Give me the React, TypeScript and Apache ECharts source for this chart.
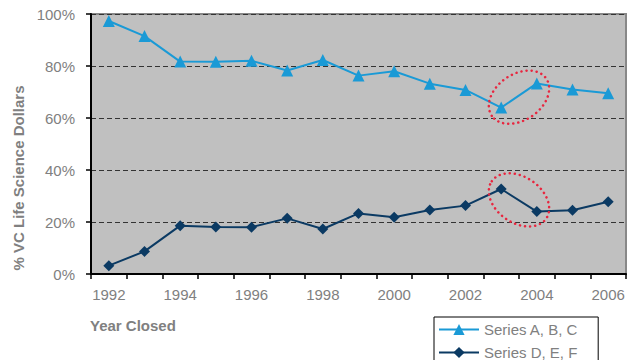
import React, { useEffect, useRef } from "react";
import * as echarts from "echarts";

const years = ["1992","1993","1994","1995","1996","1997","1998","1999","2000","2001","2002","2003","2004","2005","2006"];
const seriesABC = [97.3, 91.5, 81.7, 81.6, 82.0, 78.3, 82.3, 76.3, 78.0, 73.2, 70.8, 64.0, 73.3, 71.0, 69.5];
const seriesDEF = [3.2, 8.7, 18.6, 18.1, 18.0, 21.4, 17.3, 23.3, 21.8, 24.6, 26.3, 32.7, 24.0, 24.5, 27.8];
const seriesNames = ["Series A, B, C", "Series D, E, F"];
const yTitle = "% VC Life Science Dollars";
const xTitle = "Year Closed";

const FONT = "'Liberation Sans', Arial, sans-serif";
const GRAY = "#808080";

export default function App() {
  const ref = useRef<HTMLDivElement>(null);
  useEffect(() => {
    if (!ref.current) return;
    const chart = echarts.init(ref.current, undefined, { renderer: "svg" });
    chart.setOption({
      animation: false,
      textStyle: { fontFamily: FONT },
      grid: {
        left: 91, right: 7, top: 14, bottom: 86,
        show: true, backgroundColor: "#c0c0c0", borderColor: "#888888", borderWidth: 2,
      },
      xAxis: {
        type: "category",
        data: years,
        boundaryGap: true,
        axisLine: { lineStyle: { color: "#000", width: 2 } },
        axisTick: { show: true, interval: 0, length: 5, lineStyle: { color: "#000", width: 1.5 } },
        axisLabel: { interval: 1, color: GRAY, fontSize: 15, margin: 13, fontFamily: FONT },
        splitLine: { show: false },
      },
      yAxis: {
        type: "value",
        min: 0, max: 100, interval: 20,
        axisLine: { show: true, lineStyle: { color: "#000", width: 2 } },
        axisTick: { show: true, length: 5, lineStyle: { color: "#000", width: 1.5 } },
        axisLabel: { formatter: "{value}%", color: GRAY, fontSize: 15, margin: 16, fontFamily: FONT },
        splitLine: { show: true, lineStyle: { color: "#333", type: [5, 3], width: 1 } },
      },
      legend: {
        orient: "vertical",
        left: 434, top: 317,
        width: 140, height: 60,
        padding: [5, 20, 8, 4],
        itemWidth: 40, itemHeight: 14, itemGap: 8,
        borderColor: "#000", borderWidth: 1,
        backgroundColor: "#fff",
        textStyle: { color: GRAY, fontSize: 15, fontFamily: FONT },
        data: seriesNames,
      },
      series: [
        {
          name: seriesNames[0], type: "line", data: seriesABC,
          symbol: "triangle", symbolSize: 12,
          lineStyle: { color: "#1a9ad6", width: 2 },
          itemStyle: { color: "#1a9ad6" },
        },
        {
          name: seriesNames[1], type: "line", data: seriesDEF,
          symbol: "diamond", symbolSize: 11,
          lineStyle: { color: "#0b3a63", width: 2 },
          itemStyle: { color: "#0b3a63" },
        },
      ],
    });

    const mid = (v: number) => {
      const a = chart.convertToPixel({ gridIndex: 0 }, ["2003", v]) as number[];
      const b = chart.convertToPixel({ gridIndex: 0 }, ["2004", v]) as number[];
      return [(a[0] + b[0]) / 2, a[1]];
    };
    const up = mid(68);
    const lo = mid(28.5);
    const dotStyle = { fill: "none", stroke: "#e8263f", lineWidth: 2.5, lineDash: [0.1, 5], lineCap: "round" };
    chart.setOption({
      graphic: [
        {
          type: "text", x: 18, y: 178, rotation: Math.PI / 2, z: 10,
          style: { text: yTitle, fill: GRAY, font: `bold 15px ${FONT}`, align: "center", verticalAlign: "middle" },
        },
        {
          type: "text", x: 90, y: 325, z: 10,
          style: { text: xTitle, fill: GRAY, font: `bold 15px ${FONT}`, align: "left", verticalAlign: "middle" },
        },
        {
          type: "ellipse", x: up[0], y: up[1], rotation: 0.6, z: 20,
          shape: { cx: 0, cy: 0, rx: 33, ry: 23 }, style: dotStyle,
        },
        {
          type: "ellipse", x: lo[0], y: lo[1], rotation: -0.6, z: 20,
          shape: { cx: 0, cy: 0, rx: 33, ry: 23 }, style: dotStyle,
        },
      ],
    });
    return () => chart.dispose();
  }, []);
  return <div ref={ref} style={{ width: 633, height: 360, position: "absolute", left: 0, top: 0 }} />;
}
